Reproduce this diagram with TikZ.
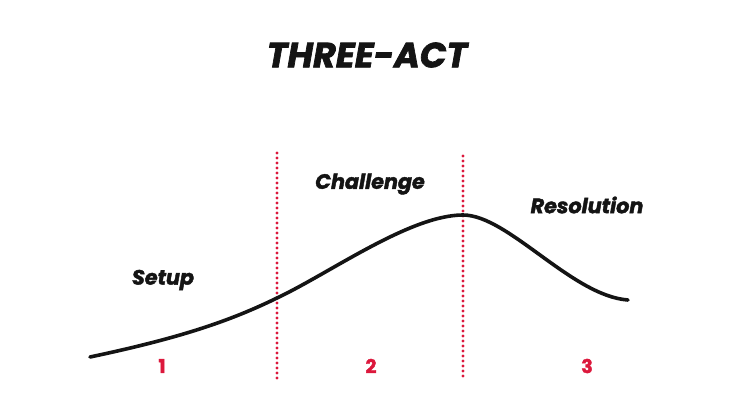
\documentclass[tikz,border=0pt]{standalone}
\usepackage{fontspec}
\setmainfont{Poppins}[BoldFeatures={FakeBold=2}, BoldItalicFeatures={FakeBold=2}]
\usepackage{xcolor}
\usepackage{tikz}
\definecolor{red}{RGB}{220, 24, 60}
\definecolor{ink}{RGB}{20, 20, 20}

\begin{document}
\begin{tikzpicture}[x=1pt, y=-1pt,
    actlabel/.style={font=\fontsize{20.7}{20.7}\selectfont\bfseries\itshape, text=ink},
    actnum/.style={font=\fontsize{19}{19}\selectfont\bfseries, text=red},
    divider/.style={red, line width=3.2pt, line cap=round, dash pattern=on 0pt off 5pt}]
      \useasboundingbox (0,0) rectangle (738,414);
      % Label: "THREE-ACT" title on top
      \node[font=\fontsize{35}{35}\selectfont\bfseries\itshape, text=ink] (title) at (367, 55) {THREE-ACT};
      % act names
      \node[actlabel] (setup) at (163, 280) {Setup};
      \node[actlabel] (challenge) at (370, 184) {Challenge};
      \node[actlabel] (resolution) at (587, 205) {Resolution};
      % act numbers below the curve
      \foreach \a/\x [count=\i] in {1/162, 2/371, 3/587} {
        \node[actnum] (num\i) at (\x, 366) {\a};
      }
      % turning points of the curve
      \coordinate (start) at (90, 357);
      \coordinate (turn1) at (277, 298);
      \coordinate (peak) at (463, 215);
      \coordinate (finish) at (628, 300);
      % dotted dividers between the acts
      \coordinate (top1) at (277, 153);
      \coordinate (bot1) at (277, 380);
      \coordinate (top2) at (463, 156);
      \coordinate (bot2) at (463, 380);
      \draw[divider] (top1) -- (bot1);
      \draw[divider] (top2) -- (bot2);
      % story curve
      \draw[ink, line width=3.6pt, line cap=round]
        (start) .. controls (180, 338) and (230, 321) .. (turn1)
                .. controls (330, 273) and (410, 215) .. (peak)
                .. controls (508, 215) and (572, 296) .. (finish);
    \end{tikzpicture}
\end{document}
